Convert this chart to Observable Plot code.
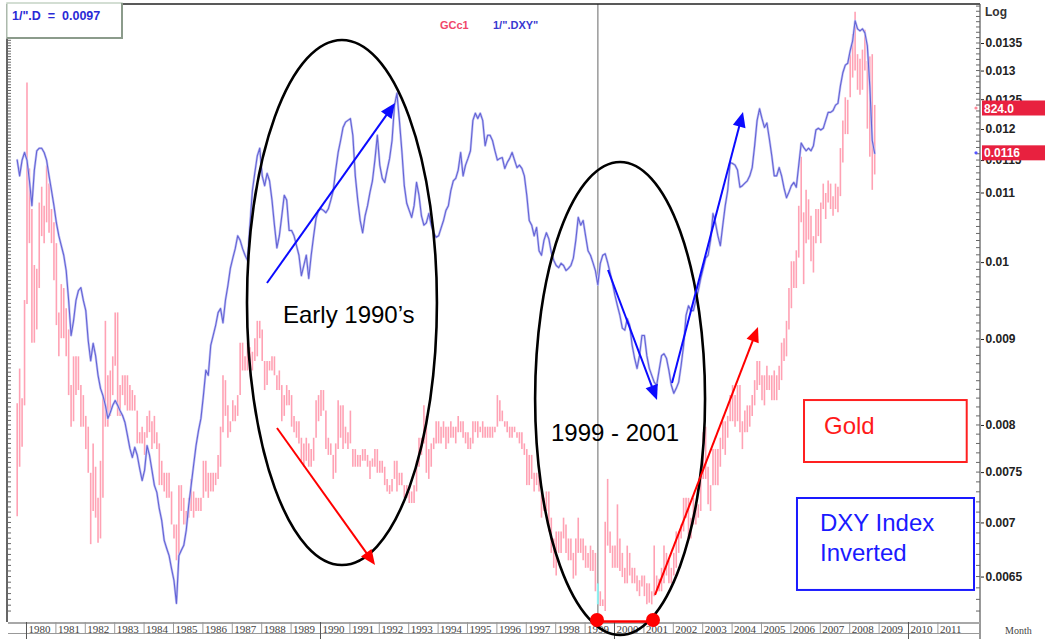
<!DOCTYPE html>
<html><head><meta charset="utf-8">
<script src="https://cdn.jsdelivr.net/npm/d3@7"></script>
<script src="https://cdn.jsdelivr.net/npm/@observablehq/plot@0.6"></script>
<style>
html,body{margin:0;padding:0;background:#fff;overflow:hidden;}
#chart{position:relative;width:1045px;height:639px;}
</style></head><body><div id="chart"></div>
<script>
// ---------- DATA (monthly, starting Sep 1979) ----------
const startYear = 1979, startMonth = 8; // 0-based month index: September
// US Dollar Index (DXY) monthly level; the chart plots 1/DXY
const dxy = [
  86.9, 88.8, 86.9, 86.0,
  86.9, 89.4, 92.5, 88.1, 85.8, 85.5, 85.5, 86.0, 86.9, 88.8, 90.6, 92.5,
  94.7, 96.4, 97.7, 99.0, 101.1, 105.3, 110.5, 108.3, 105.3, 103.9, 103.5, 105.3,
  106.8, 111.3, 114.4, 111.7, 113.6, 116.7, 118.8, 120.0, 121.6, 123.8, 122.8, 121.6,
  120.8, 121.6, 122.5, 123.3, 124.5, 126.7, 129.0, 130.6, 128.8, 130.2, 132.6, 134.8,
  132.9, 128.5, 130.2, 132.9, 135.7, 137.0, 140.1, 142.4, 146.3, 147.9, 149.4, 152.1,
  154.6, 159.5, 149.4, 148.3, 147.3, 144.3, 139.5, 135.7, 132.0, 128.5, 125.9, 123.8,
  120.0, 115.9, 116.7, 112.0, 110.5, 109.0, 107.1, 106.5, 108.6, 105.3, 103.2, 100.8,
  99.4, 98.1, 96.4, 97.0, 98.1, 99.0, 99.7, 95.0, 90.6, 88.4, 86.4, 85.5,
  88.8, 90.0, 88.5, 89.4, 91.8, 95.0, 98.0, 96.4, 93.8, 91.2, 91.8, 95.7,
  95.7, 96.4, 97.7, 99.0, 101.8, 100.4, 99.0, 102.2, 99.0, 96.4, 94.1, 93.1,
  92.9, 93.1, 93.4, 92.9, 91.8, 90.6, 88.1, 86.0, 84.6, 83.1, 82.5, 82.3,
  82.1, 84.0, 88.8, 91.8, 94.4, 96.0, 93.8, 92.5, 90.8, 89.4, 86.9, 84.0,
  87.5, 89.1, 89.6, 88.1, 86.7, 84.6, 80.6, 79.3, 82.3, 85.8, 90.0, 92.2,
  93.1, 94.0, 92.5, 89.6, 91.2, 93.8, 95.0, 94.7, 93.5, 95.0, 96.0, 96.6,
  96.4, 95.4, 94.4, 93.1, 92.5, 90.6, 89.4, 89.1, 88.1, 86.0, 88.8, 87.5,
  86.7, 85.8, 82.3, 81.5, 82.1, 81.5, 82.3, 85.2, 84.0, 84.0, 84.6, 85.8,
  86.9, 86.7, 86.6, 87.9, 87.2, 86.7, 86.0, 86.9, 87.8, 87.5, 87.9, 88.8,
  91.2, 94.4, 95.0, 96.4, 95.3, 98.4, 99.0, 97.0, 96.0, 96.8, 98.6, 99.7,
  100.4, 100.7, 100.1, 100.4, 101.1, 100.8, 100.4, 99.4, 97.0, 94.0, 95.0, 94.4,
  96.4, 98.4, 99.0, 100.0, 101.1, 103.1, 100.1, 99.0, 98.8, 100.0, 101.4, 102.9,
  104.6, 106.1, 107.5, 109.4, 109.7, 108.0, 109.0, 112.0, 114.0, 115.6, 113.6, 110.5,
  110.5, 113.6, 115.6, 116.7, 117.8, 118.3, 115.9, 113.6, 113.3, 114.0, 115.9, 118.3,
  119.6, 118.8, 117.8, 115.1, 112.0, 107.5, 106.1, 106.8, 106.8, 105.3, 103.9, 102.2,
  100.8, 99.4, 99.0, 97.0, 93.5, 94.7, 96.4, 97.7, 95.0, 92.5, 90.6, 87.2,
  87.3, 87.5, 88.1, 90.2, 90.0, 89.7, 89.4, 88.8, 87.8, 85.2, 82.3, 81.0,
  82.1, 83.1, 82.6, 84.4, 86.4, 88.8, 88.8, 87.8, 88.8, 90.3, 91.5, 90.8,
  90.0, 89.6, 90.2, 87.5, 84.9, 85.4, 85.8, 85.5, 85.8, 85.2, 83.4, 83.2,
  83.4, 83.2, 82.3, 81.4, 81.4, 81.2, 80.6, 80.4, 78.5, 77.1, 76.3, 76.1,
  74.8, 73.8, 71.8, 72.6, 72.8, 72.6, 73.0, 74.3, 78.5, 84.6, 86.1
];
// Gold continuous futures (GCc1) monthly high / low, USD/oz
const goldHigh = [
  412, 447, 417, 525,
  875, 715, 650, 570, 565, 660, 685, 655, 720, 690, 650, 630,
  600, 510, 545, 540, 515, 490, 430, 460, 460, 460, 430, 420,
  400, 390, 350, 375, 355, 330, 360, 420, 500, 440, 445, 460,
  510, 510, 430, 440, 440, 440, 430, 425, 420, 405, 385, 390,
  385, 400, 405, 395, 400, 385, 375, 360, 350, 350, 350, 335,
  310, 310, 340, 340, 330, 320, 330, 345, 335, 330, 330, 330,
  360, 360, 350, 350, 350, 350, 365, 390, 440, 435, 410, 395,
  415, 410, 420, 475, 475, 460, 475, 470, 465, 480, 500, 500,
  490, 455, 455, 455, 460, 460, 440, 445, 430, 420, 430, 425,
  420, 400, 395, 395, 380, 375, 380, 375, 370, 380, 415, 420,
  425, 425, 405, 380, 375, 365, 375, 415, 410, 410, 390, 385,
  405, 370, 370, 365, 365, 370, 370, 365, 360, 362, 370, 370,
  360, 360, 355, 345, 340, 345, 360, 360, 350, 350, 340, 340,
  335, 335, 340, 360, 380, 380, 410, 400, 370, 375, 380, 395,
  395, 390, 395, 390, 390, 395, 390, 390, 400, 395, 395, 385,
  385, 380, 395, 395, 395, 390, 395, 390, 390, 390, 390, 390,
  420, 415, 405, 395, 395, 390, 390, 390, 385, 385, 385, 375,
  370, 365, 365, 350, 350, 348, 335, 330, 335, 335, 315, 300,
  305, 305, 305, 315, 310, 300, 300, 290, 300, 315, 300, 300,
  295, 290, 295, 292, 290, 270, 265, 260, 312, 345, 305, 295,
  295, 325, 300, 290, 280, 295, 290, 280, 280, 275, 272, 275,
  275, 270, 270, 265, 295, 275, 273, 280, 295, 290, 285, 280,
  290, 305, 305, 310, 330, 330, 330, 315, 330, 325, 325, 350,
  385, 390, 355, 340, 370, 370, 370, 380, 395, 395, 400, 420,
  430, 420, 430, 430, 395, 405, 410, 410, 420, 435, 455, 455,
  440, 440, 450, 440, 440, 445, 440, 450, 475, 480, 500, 540,
  575, 575, 590, 655, 735, 645, 680, 665, 640, 610, 650, 650,
  660, 690, 675, 695, 690, 670, 690, 685, 750, 800, 845, 840,
  935, 980, 1033, 935, 925, 945, 990, 920, 930, 935, 830
];
const goldLow = [
  316, 355, 372, 410,
  520, 600, 475, 475, 490, 540, 610, 600, 630, 615, 600, 550,
  495, 460, 480, 480, 460, 420, 390, 395, 420, 425, 390, 390,
  370, 350, 296, 320, 315, 297, 300, 330, 390, 390, 400, 420,
  450, 400, 400, 420, 410, 405, 405, 405, 405, 375, 375, 375,
  365, 380, 385, 370, 375, 370, 340, 340, 335, 330, 330, 310,
  300, 285, 285, 320, 310, 310, 315, 320, 315, 320, 320, 320,
  330, 335, 330, 335, 335, 340, 345, 355, 385, 400, 380, 385,
  395, 395, 400, 420, 445, 445, 445, 450, 445, 455, 460, 480,
  455, 425, 430, 445, 445, 440, 425, 425, 395, 400, 410, 410,
  390, 385, 380, 375, 360, 355, 360, 355, 355, 360, 380, 395,
  400, 405, 370, 365, 365, 345, 350, 370, 380, 370, 375, 370,
  375, 355, 355, 355, 355, 360, 360, 355, 345, 355, 355, 350,
  350, 350, 340, 335, 333, 335, 345, 335, 340, 340, 330, 330,
  326, 326, 326, 335, 355, 365, 375, 350, 345, 355, 370, 375,
  375, 375, 380, 370, 375, 380, 380, 375, 385, 385, 380, 375,
  370, 370, 375, 385, 380, 385, 380, 380, 380, 380, 380, 385,
  390, 395, 395, 390, 385, 380, 380, 385, 380, 375, 370, 365,
  340, 340, 345, 335, 340, 335, 315, 320, 320, 305, 290, 280,
  275, 290, 290, 300, 290, 285, 285, 273, 275, 290, 290, 285,
  280, 280, 278, 278, 265, 257, 256, 256, 253, 295, 290, 280,
  280, 280, 278, 274, 270, 270, 275, 270, 270, 265, 262, 268,
  262, 257, 258, 257, 262, 265, 265, 265, 270, 275, 270, 270,
  275, 280, 290, 300, 305, 315, 300, 300, 310, 310, 315, 320,
  345, 345, 325, 320, 340, 340, 340, 355, 370, 365, 380, 395,
  395, 390, 395, 385, 370, 385, 385, 390, 400, 410, 425, 430,
  415, 410, 425, 425, 415, 415, 415, 425, 435, 455, 460, 490,
  515, 540, 540, 580, 630, 545, 600, 605, 575, 560, 600, 610,
  600, 650, 635, 660, 650, 640, 650, 645, 670, 725, 775, 775,
  845, 885, 900, 860, 850, 860, 900, 785, 735, 680, 705
];
const goldLast = 824.0;
const yTicks = [0.0065, 0.007, 0.0075, 0.008, 0.009, 0.01, 0.011, 0.0115, 0.012, 0.0125, 0.013, 0.0135];
const yearLabels = d3.range(1980, 2012);
const cursorT = 1999 + 5 / 12; // June 1999

// annotations, in data units (decimal year, 1/DXY value)
const ellipseNotes = [
  {t1: 1987.50, t2: 1993.96, v1: 0.013556, v2: 0.006604},
  {t1: 1997.30, t2: 2003.08, v1: 0.011469, v2: 0.006000}
];
const arrowNotes = [
  {t1: 1988.180, v1: 0.009718, t2: 1992.534, v2: 0.012435, color: "#0b0bff"},
  {t1: 1988.520, v1: 0.007967, t2: 1991.854, v2: 0.006604, color: "#ff0000"},
  {t1: 1999.779, v1: 0.009892, t2: 2001.446, v2: 0.008278, color: "#0b0bff"},
  {t1: 2001.956, v1: 0.008473, t2: 2004.371, v2: 0.012283, color: "#0b0bff"},
  {t1: 2001.378, v1: 0.006338, t2: 2004.881, v2: 0.009149, color: "#ff0000"}
];
const spanNote = {t1: 1999.405, t2: 2001.310, v: 0.006125, color: "#ff0000"};
const textNotes = [
  {t: 1988.724, v: 0.009301, text: "Early 1990\u2019s", color: "#000"},
  {t: 1997.840, v: 0.007923, text: "1999 - 2001", color: "#000"},
  {t: 2007.126, v: 0.0079896, text: "Gold", color: "#ff1a1a"},
  {t: 2006.990, v: 0.006995, text: "DXY Index", color: "#1a1aff"},
  {t: 2006.990, v: 0.0067217, text: "Inverted", color: "#1a1aff"}
];
const boxNotes = [
  {t1: 2006.446, t2: 2011.980, v1: 0.008278, v2: 0.0076044, color: "#ff2020"},
  {t1: 2006.207, t2: 2012.228, v1: 0.0072384, v2: 0.0063817, color: "#1a1aff"}
];

// ---------- BUILD ----------
const tOf = i => startYear + (startMonth + i) / 12;
// gold is shown on its own (hidden) log axis, mapped into the chart's log y space
const gv = g => 0.01235 * Math.pow(g / 824, 0.5836);

const n = Math.min(dxy.length, goldHigh.length, goldLow.length);
const rowsD = dxy.map((d, i) => ({t: tOf(i), v: 1 / d}));
const rowsG = d3.range(n).map(i => ({t: tOf(i), lo: gv(goldLow[i]), hi: gv(goldHigh[i])}));
const cursorRow = rowsG.filter(r => Math.abs(r.t - cursorT) < 0.01);
const cursorIdx = rowsD.findIndex(r => Math.abs(r.t - cursorT) < 0.01);

const plot = Plot.plot({
  width: 1045, height: 639,
  marginLeft: 7, marginRight: 65, marginTop: 4, marginBottom: 18,
  style: {fontFamily: "'Liberation Sans', Arial, sans-serif", fontSize: "12px", color: "#222", background: "#fff", overflow: "visible"},
  x: {type: "linear", domain: [1979.337, 2012.432], axis: null},
  y: {type: "log", domain: [0.006116, 0.014241], axis: "right", ticks: yTicks, tickFormat: d => String(d), tickSize: 3, tickPadding: 2, label: null},
  marks: [
    Plot.ruleX(rowsG, {x: "t", y1: "lo", y2: "hi", stroke: "#ffa2b4", strokeWidth: 1.6}),
    Plot.ruleX([cursorT], {stroke: "#9a9a9a", strokeWidth: 1.5}),
    Plot.ruleX(cursorRow, {x: "t", y1: "lo", y2: "hi", stroke: "#8ef0f0", strokeWidth: 2}),
    Plot.line(rowsD, {x: "t", y: "v", stroke: "#c4c4f4", strokeWidth: 2.4}),
    Plot.line(rowsD, {x: "t", y: "v", stroke: "#6464d6", strokeWidth: 1.1})
  ]
});
document.getElementById("chart").appendChild(plot);

const X = plot.scale("x"), Y = plot.scale("y");
const sx = t => X.apply(t), sy = v => Y.apply(v);
const svg = d3.select(plot);
svg.selectAll('g[aria-label="y-axis tick label"] text, g[aria-label="y-axis tick label"]').style("font-weight", "600");
const g = svg.append("g").attr("text-anchor", "start");
const R = 980, L = 7, T = 4, B = 621;

// frame
g.append("line").attr("x1", L).attr("x2", R).attr("y1", T).attr("y2", T).attr("stroke", "#222").attr("stroke-width", 1.6);
g.append("line").attr("x1", L).attr("x2", L).attr("y1", T).attr("y2", 622).attr("stroke", "#333").attr("stroke-width", 1.5);
g.append("line").attr("x1", R).attr("x2", R).attr("y1", T).attr("y2", 639).attr("stroke", "#555").attr("stroke-width", 1.2);
// minor ticks
d3.range(62, 143).map(k => k / 10000).forEach(v => {
  const y = sy(v); if (y < T + 2 || y > B) return;
  g.append("line").attr("x1", R - 4).attr("x2", R).attr("y1", y).attr("y2", y).attr("stroke", "#666").attr("stroke-width", 1);
});
d3.range(124, 286).map(k => k / 20000).forEach(v => {
  const y = sy(v); if (y < 40 || y > B) return;
  g.append("line").attr("x1", L).attr("x2", L + 4).attr("y1", y).attr("y2", y).attr("stroke", "#666").attr("stroke-width", 1);
});

// bottom year strip
g.append("line").attr("x1", L + 1).attr("x2", R).attr("y1", 623).attr("y2", 623).attr("stroke", "#a8a8a8").attr("stroke-width", 2);
g.append("line").attr("x1", L + 1).attr("x2", R).attr("y1", 633.5).attr("y2", 633.5).attr("stroke", "#999").attr("stroke-width", 1);
yearLabels.forEach(yr => {
  const x = sx(yr), dec = yr % 10 === 0;
  g.append("line").attr("x1", x).attr("x2", x).attr("y1", 622).attr("y2", dec ? 639 : 633.5)
    .attr("stroke", dec ? "#555" : "#999").attr("stroke-width", 1);
  g.append("text").attr("x", x + 2).attr("y", 628.5).attr("dominant-baseline", "central")
    .attr("font-family", "'Liberation Serif', 'Times New Roman', serif").attr("font-size", 11).attr("fill", "#444").text(yr);
});
g.append("text").attr("x", 1005).attr("y", 630).attr("dominant-baseline", "central")
  .attr("font-family", "'Liberation Serif', 'Times New Roman', serif").attr("font-size", 10).attr("fill", "#444").text("Month");
g.append("text").attr("x", 985).attr("y", 12).attr("dominant-baseline", "central")
  .attr("font-size", 12).attr("font-weight", 600).attr("fill", "#333").text("Log");

// top-left readout box
g.append("rect").attr("x", 7).attr("y", 3).attr("width", 115).attr("height", 35).attr("fill", "#fff").attr("stroke", "#c5d3c5").attr("stroke-width", 1.5);
g.append("path").attr("d", "M122,3V38H7").attr("fill", "none").attr("stroke", "#8b9b8b").attr("stroke-width", 2);
g.append("text").attr("x", 12).attr("y", 16).attr("dominant-baseline", "central").style("white-space", "pre")
  .attr("font-size", 12.5).attr("font-weight", 700).attr("fill", "#2a2ad6")
  .text('1/".D  =  ' + (1 / dxy[cursorIdx]).toFixed(4));

// legend
g.append("text").attr("x", 440).attr("y", 25).attr("dominant-baseline", "central").attr("font-size", 11).attr("font-weight", 700).attr("fill", "#f0466a").text("GCc1");
g.append("text").attr("x", 493).attr("y", 25).attr("dominant-baseline", "central").attr("font-size", 11).attr("font-weight", 700).attr("fill", "#3838d0").text('1/".DXY"');

// last-value labels
const gy = sy(gv(goldLast));
const dyv = sy(1 / dxy[dxy.length - 1]);
[[gy, goldLast.toFixed(1), "#ff8a9a"], [dyv, (1 / dxy[dxy.length - 1]).toFixed(4), "#5555ff"]].forEach(([y, txt, dot]) => {
  g.append("rect").attr("x", 982).attr("y", y - 7.5).attr("width", 63).attr("height", 15).attr("fill", "#e8213f");
  g.append("text").attr("x", 984).attr("y", y + 0.5).attr("dominant-baseline", "central").attr("font-size", 12).attr("font-weight", 700).attr("fill", "#fff").text(txt);
  g.append("circle").attr("cx", 976).attr("cy", y).attr("r", 1.6).attr("fill", dot);
});

// annotations
ellipseNotes.forEach(e => {
  const x1 = sx(e.t1), x2 = sx(e.t2), y1 = sy(e.v1), y2 = sy(e.v2);
  g.append("ellipse").attr("cx", (x1 + x2) / 2).attr("cy", (y1 + y2) / 2)
    .attr("rx", Math.abs(x2 - x1) / 2).attr("ry", Math.abs(y2 - y1) / 2)
    .attr("fill", "none").attr("stroke", "#000").attr("stroke-width", 2.6);
});
function arrow(x1, y1, x2, y2, color) {
  const dx = x2 - x1, dy = y2 - y1, len = Math.hypot(dx, dy), ux = dx / len, uy = dy / len;
  const hl = 15, hw = 6.5, bx = x2 - ux * hl, by = y2 - uy * hl;
  g.append("line").attr("x1", x1).attr("y1", y1).attr("x2", bx + ux * 2).attr("y2", by + uy * 2).attr("stroke", color).attr("stroke-width", 2);
  g.append("path").attr("d", `M${x2},${y2}L${bx - uy * hw},${by + ux * hw}L${bx + uy * hw},${by - ux * hw}Z`).attr("fill", color);
}
arrowNotes.forEach(a => arrow(sx(a.t1), sy(a.v1), sx(a.t2), sy(a.v2), a.color));
{
  const x1 = sx(spanNote.t1), x2 = sx(spanNote.t2), y = sy(spanNote.v);
  g.append("line").attr("x1", x1).attr("x2", x2).attr("y1", y + 1.5).attr("y2", y + 1.5).attr("stroke", spanNote.color).attr("stroke-width", 2.5);
  [x1, x2].forEach(x => g.append("circle").attr("cx", x).attr("cy", y).attr("r", 7).attr("fill", spanNote.color));
}
boxNotes.forEach(b => {
  const x1 = sx(b.t1), x2 = sx(b.t2), y1 = sy(b.v1), y2 = sy(b.v2);
  g.append("rect").attr("x", Math.min(x1, x2)).attr("y", Math.min(y1, y2))
    .attr("width", Math.abs(x2 - x1)).attr("height", Math.abs(y2 - y1))
    .attr("fill", "none").attr("stroke", b.color).attr("stroke-width", 2);
});
textNotes.forEach(tn => {
  g.append("text").attr("x", sx(tn.t)).attr("y", sy(tn.v)).attr("dominant-baseline", "central")
    .attr("font-family", "'Liberation Sans', Arial, sans-serif").attr("font-size", 24).attr("font-weight", 400)
    .attr("fill", tn.color).text(tn.text);
});
</script></body></html>
